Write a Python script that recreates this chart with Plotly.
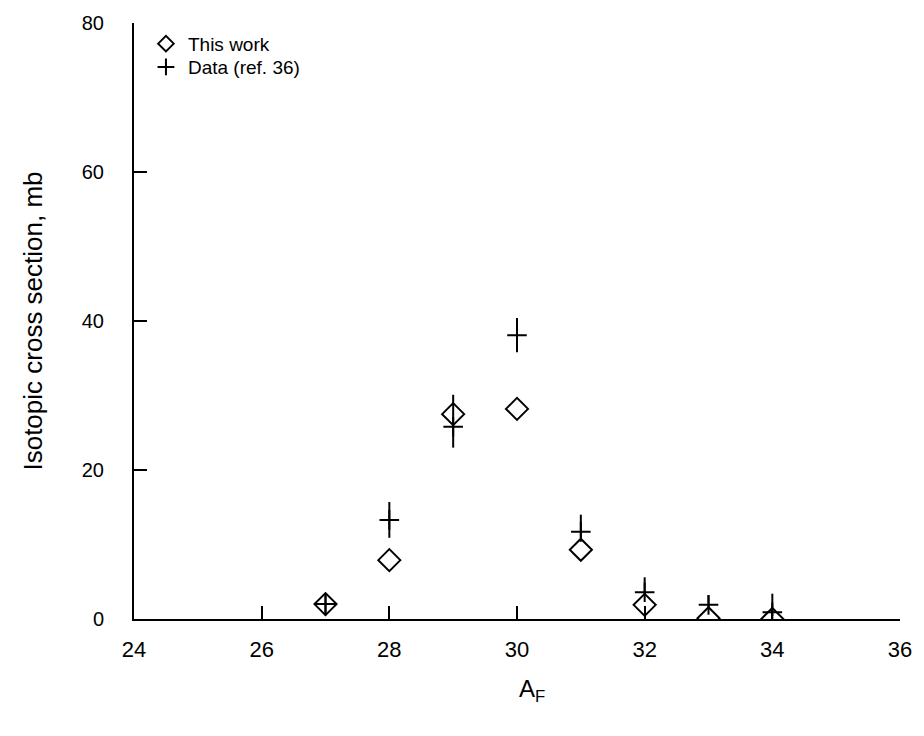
import plotly.graph_objects as go

# Data
a_f = [27, 28, 29, 30, 31, 32, 33, 34]
this_work = [2.0, 7.9, 27.5, 28.2, 9.3, 1.9, 0.1, 0.0]
data_ref = [2.0, 13.3, 25.8, 38.1, 11.7, 3.6, 1.9, 0.9]
data_err_plus = [1.5, 2.4, 4.3, 2.3, 2.3, 2.0, 1.3, 2.5]
data_err_minus = [1.5, 2.4, 2.8, 2.3, 0.8, 0.5, 0.5, 0.5]

x_ticks = [24, 26, 28, 30, 32, 34, 36]
y_ticks = [0, 20, 40, 60, 80]

FONT = "Liberation Sans, Arial, Helvetica, sans-serif"

fig = go.Figure()
fig.add_trace(go.Scatter(
    x=a_f, y=this_work, mode="markers", name="This work", legend="legend",
    marker=dict(symbol="diamond-open", size=17, color="black",
                line=dict(width=2, color="black")),
))
fig.add_trace(go.Scatter(
    x=a_f, y=data_ref, mode="markers", name="Data (ref. 36)", legend="legend2",
    marker=dict(symbol="cross-thin", size=14, color="black",
                line=dict(width=2, color="black")),
    error_y=dict(type="data", symmetric=False, array=data_err_plus,
                 arrayminus=data_err_minus, width=0, thickness=2,
                 color="black"),
))

leg_common = dict(xanchor="left", yanchor="top", bgcolor="rgba(0,0,0,0)",
                  font=dict(size=19, color="black", family=FONT),
                  itemsizing="constant", itemwidth=34)

fig.update_layout(
    width=924, height=736,
    margin=dict(l=134, r=18, t=22, b=117),
    paper_bgcolor="white", plot_bgcolor="white",
    font=dict(family=FONT, size=22, color="black"),
    showlegend=True,
    legend=dict(x=0.013, y=0.997, **leg_common),
    legend2=dict(x=0.013, y=0.958, **leg_common),
    annotations=[dict(text="A<sub>F</sub>", xref="paper", yref="paper",
                      x=0.52, y=-0.12, xanchor="center", yanchor="middle",
                      showarrow=False, font=dict(size=24, family=FONT))],
)
fig.update_xaxes(
    range=[24, 36], tickvals=x_ticks, ticktext=[str(v) for v in x_ticks],
    showgrid=False, zeroline=False, showline=True, linecolor="black",
    linewidth=2, ticks="inside", ticklen=13, tickwidth=2, tickcolor="black",
    ticklabelstandoff=10, tickfont=dict(size=22),
)
fig.update_yaxes(
    range=[0, 80], tickvals=y_ticks, ticktext=[str(v) for v in y_ticks],
    showgrid=False, zeroline=False, showline=True, linecolor="black",
    linewidth=2, ticks="inside", ticklen=13, tickwidth=2, tickcolor="black",
    ticklabelstandoff=24, tickfont=dict(size=20),
    title=dict(text="Isotopic cross section, mb", standoff=32, font=dict(size=26)),
)

fig.write_html("out.html")
